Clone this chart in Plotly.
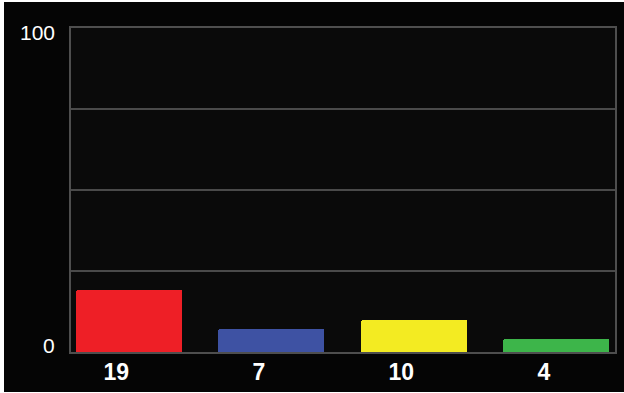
import plotly.graph_objects as go

# Chart data
categories = ["A", "B", "C", "D"]
values = [19, 7, 10, 4]
bar_colors = ["#ee1f26", "#3e52a3", "#f3eb22", "#3db54a"]
x_tick_labels = [str(v) for v in values]
y_label_values = [0, 100]
y_grid_values = [0, 25, 50, 75, 100]

positions = list(range(len(categories)))

fig = go.Figure()
fig.add_trace(
    go.Bar(
        x=positions,
        y=values,
        width=0.745,
        offset=-0.285,
        marker=dict(color=bar_colors, line=dict(width=0), cornerradius=2),
        hoverinfo="skip",
    )
)

# Y labels placed beside the axis
y_shifts = {0: 7, 100: -4}
for v in y_label_values:
    fig.add_annotation(
        x=0, xref="paper", xanchor="right", xshift=-14,
        y=v, yref="y", yshift=y_shifts[v], yanchor="middle",
        text=str(v), showarrow=False,
        font=dict(family="Liberation Sans, Arial", size=21, color="#ffffff"),
    )

# Outer page and plot area backgrounds (thin white edge on left/top/bottom)
fig.add_shape(type="rect", xref="paper", yref="paper",
              x0=(4 - 71) / 544, x1=(626 - 71) / 544,
              y0=(352 - 392) / 324, y1=(352 - 2) / 324,
              fillcolor="#050505", line=dict(width=0), layer="below")
fig.add_shape(type="rect", xref="paper", yref="paper",
              x0=0, x1=1, y0=0, y1=1,
              fillcolor="#0a0a0a", line=dict(width=0), layer="below")

fig.update_layout(
    width=624, height=393,
    margin=dict(l=71, r=9, t=28, b=41),
    paper_bgcolor="#ffffff",
    plot_bgcolor="rgba(0,0,0,0)",
    showlegend=False,
    bargap=0,
    xaxis=dict(
        range=[-0.318, 3.499],
        tickvals=positions,
        ticktext=x_tick_labels,
        tickfont=dict(family="Liberation Sans, Arial", size=23, color="#ffffff", weight="bold"),
        showgrid=False, zeroline=False,
        showline=True, mirror=True, linecolor="#4e4e4e", linewidth=2,
        ticks="", ticklabelstandoff=-2,
        automargin=False,
        fixedrange=True,
    ),
    yaxis=dict(
        range=[0, 100],
        tickvals=y_grid_values,
        showticklabels=False,
        showgrid=True, gridcolor="#4a4a4a", gridwidth=2,
        zeroline=False,
        showline=True, mirror=True, linecolor="#4e4e4e", linewidth=2,
        ticks="",
        automargin=False,
        fixedrange=True,
    ),
)

fig.write_html("out.html")
